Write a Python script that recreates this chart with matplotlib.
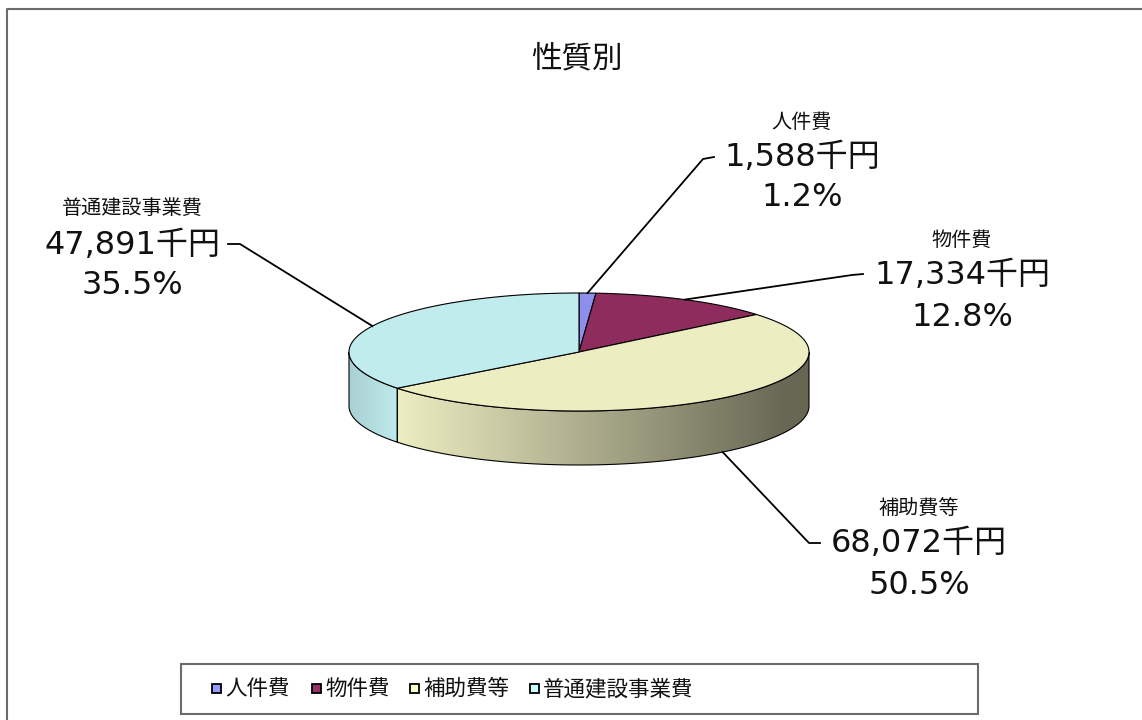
import numpy as np
import matplotlib
matplotlib.use("Agg")
import matplotlib.pyplot as plt
from matplotlib.patches import Polygon, Rectangle
from matplotlib.colors import to_rgb

plt.rcParams['font.family'] = ['Noto Sans CJK JP', 'DejaVu Sans']

# ---------------- data ----------------
title = "性質別"
categories = ["人件費", "物件費", "補助費等", "普通建設事業費"]
values = [1588, 17334, 68072, 47891]
unit = "千円"

# ---------------- style ----------------
top_colors = ["#8E8EEC", "#8E2C5E", "#EDEDC2", "#C0ECEE"]
legend_colors = ["#9999FF", "#993366", "#FFFFCC", "#CCFFFF"]
# label text anchor (name line, value line, pct line) positions in pixels
label_pos = [(802, 122, 157, 198), (962, 240, 276, 317),
             (919, 509, 544, 585), (132, 208, 246, 286)]
# leader line elbow / end points
leader_pts = [((703, 159), (714, 157)), ((852, 275), (863, 274)),
              ((809, 543), (820, 543)), ((240, 244), (228, 244))]

W, H = 1142, 720
CX, CY, RX, RY, DEPTH = 579, 352, 230, 59, 54

fig = plt.figure(figsize=(W / 100, H / 100), dpi=100)
ax = fig.add_axes([0, 0, 1, 1])
ax.set_xlim(0, W)
ax.set_ylim(H, 0)
ax.axis('off')

# chart outer frame
ax.plot([7, 7, W + 5], [H + 5, 9, 9], color="#6b6b6b", lw=1.5, solid_capstyle='butt')

total = float(sum(values))
fracs = [v / total for v in values]

# percentages rounded to 0.1 so that they sum to 100 (largest remainder)
raw = np.array(fracs) * 1000.0
fl = np.floor(raw)
rem = raw - fl
need = int(round(1000 - fl.sum()))
order = np.argsort(-rem)
fl[order[:need]] += 1
pcts = fl / 10.0

cum = np.concatenate([[0], np.cumsum(fracs)])
a_start = 90 - 360 * cum[:-1]
a_end = 90 - 360 * cum[1:]


def ell(theta_deg, dy=0.0):
    t = np.radians(theta_deg)
    return CX + RX * np.cos(t), CY - RY * np.sin(t) + dy


def shade(x):
    return np.interp(x, [CX - RX, CX - RX + 50, CX + RX - 25, CX + RX], [0.88, 1.0, 0.44, 0.43])


# ---- side walls (front half: angles in [-180, 0]) ----
xs_img = np.arange(CX - RX - 2, CX + RX + 3)
for i in range(len(values)):
    lo = max(a_end[i], -180)
    hi = min(a_start[i], 0)
    if lo >= hi:
        continue
    th = np.linspace(lo, hi, 120)
    tx, ty = ell(th)
    bx, by = ell(th[::-1], DEPTH)
    poly = np.column_stack([np.concatenate([tx, bx]), np.concatenate([ty, by])])
    base = np.array(to_rgb(top_colors[i]))
    f = shade(xs_img)[None, :, None]
    img = np.clip(base[None, None, :] * f, 0, 1)
    img = np.repeat(img, 2, axis=0)
    im = ax.imshow(img, extent=(xs_img[0], xs_img[-1], CY + RY + DEPTH + 5, CY - RY - 5),
                   aspect='auto', interpolation='bilinear', zorder=2)
    clip = Polygon(poly, closed=True, facecolor='none', edgecolor='none', transform=ax.transData)
    ax.add_patch(clip)
    im.set_clip_path(clip)
    ax.add_patch(Polygon(poly, closed=True, facecolor='none', edgecolor='black', lw=0.8, zorder=3))

# ---- top faces ----
for i in range(len(values)):
    th = np.linspace(a_start[i], a_end[i], 200)
    x, y = ell(th)
    poly = np.column_stack([np.concatenate([[CX], x]), np.concatenate([[CY], y])])
    ax.add_patch(Polygon(poly, closed=True, facecolor=top_colors[i], edgecolor='black', lw=0.8, zorder=4))

# ---- leader lines and labels ----
for i, cat in enumerate(categories):
    mid = (a_start[i] + a_end[i]) / 2
    s = np.sin(np.radians(mid))
    ax_, ay_ = ell(mid, DEPTH if s < 0 else 0)
    (ex, ey), (fx, fy) = leader_pts[i]
    ax.plot([ax_, ex, fx], [ay_, ey, fy], color='black', lw=1.3, zorder=5)
    lx, ny, vy, py = label_pos[i]
    ax.text(lx, ny, cat, ha='center', va='center', fontsize=14.5, color='#111111')
    ax.text(lx, vy, f"{values[i]:,}{unit}", ha='center', va='center', fontsize=23,
            family=['DejaVu Sans', 'Noto Sans CJK JP'], color='#111111')
    ax.text(lx, py, f"{pcts[i]:.1f}%", ha='center', va='center', fontsize=23,
            family=['DejaVu Sans', 'Noto Sans CJK JP'], color='#111111')

# ---- title ----
ax.text(577, 59, title, ha='center', va='center', fontsize=22, color='#111111')

# ---- legend ----
ax.add_patch(Rectangle((181, 664), 797, 50, facecolor='white', edgecolor='#6b6b6b', lw=1.5, zorder=5))
leg_x = [212, 312, 410, 530]
for i, cat in enumerate(categories):
    ax.add_patch(Rectangle((leg_x[i], 684), 9, 9, facecolor=legend_colors[i], edgecolor='black', lw=1.3, zorder=6))
    ax.text(leg_x[i] + 13, 689, cat, ha='left', va='center', fontsize=15.5, color='#111111', zorder=6)

fig.savefig("out.png", dpi=100)
